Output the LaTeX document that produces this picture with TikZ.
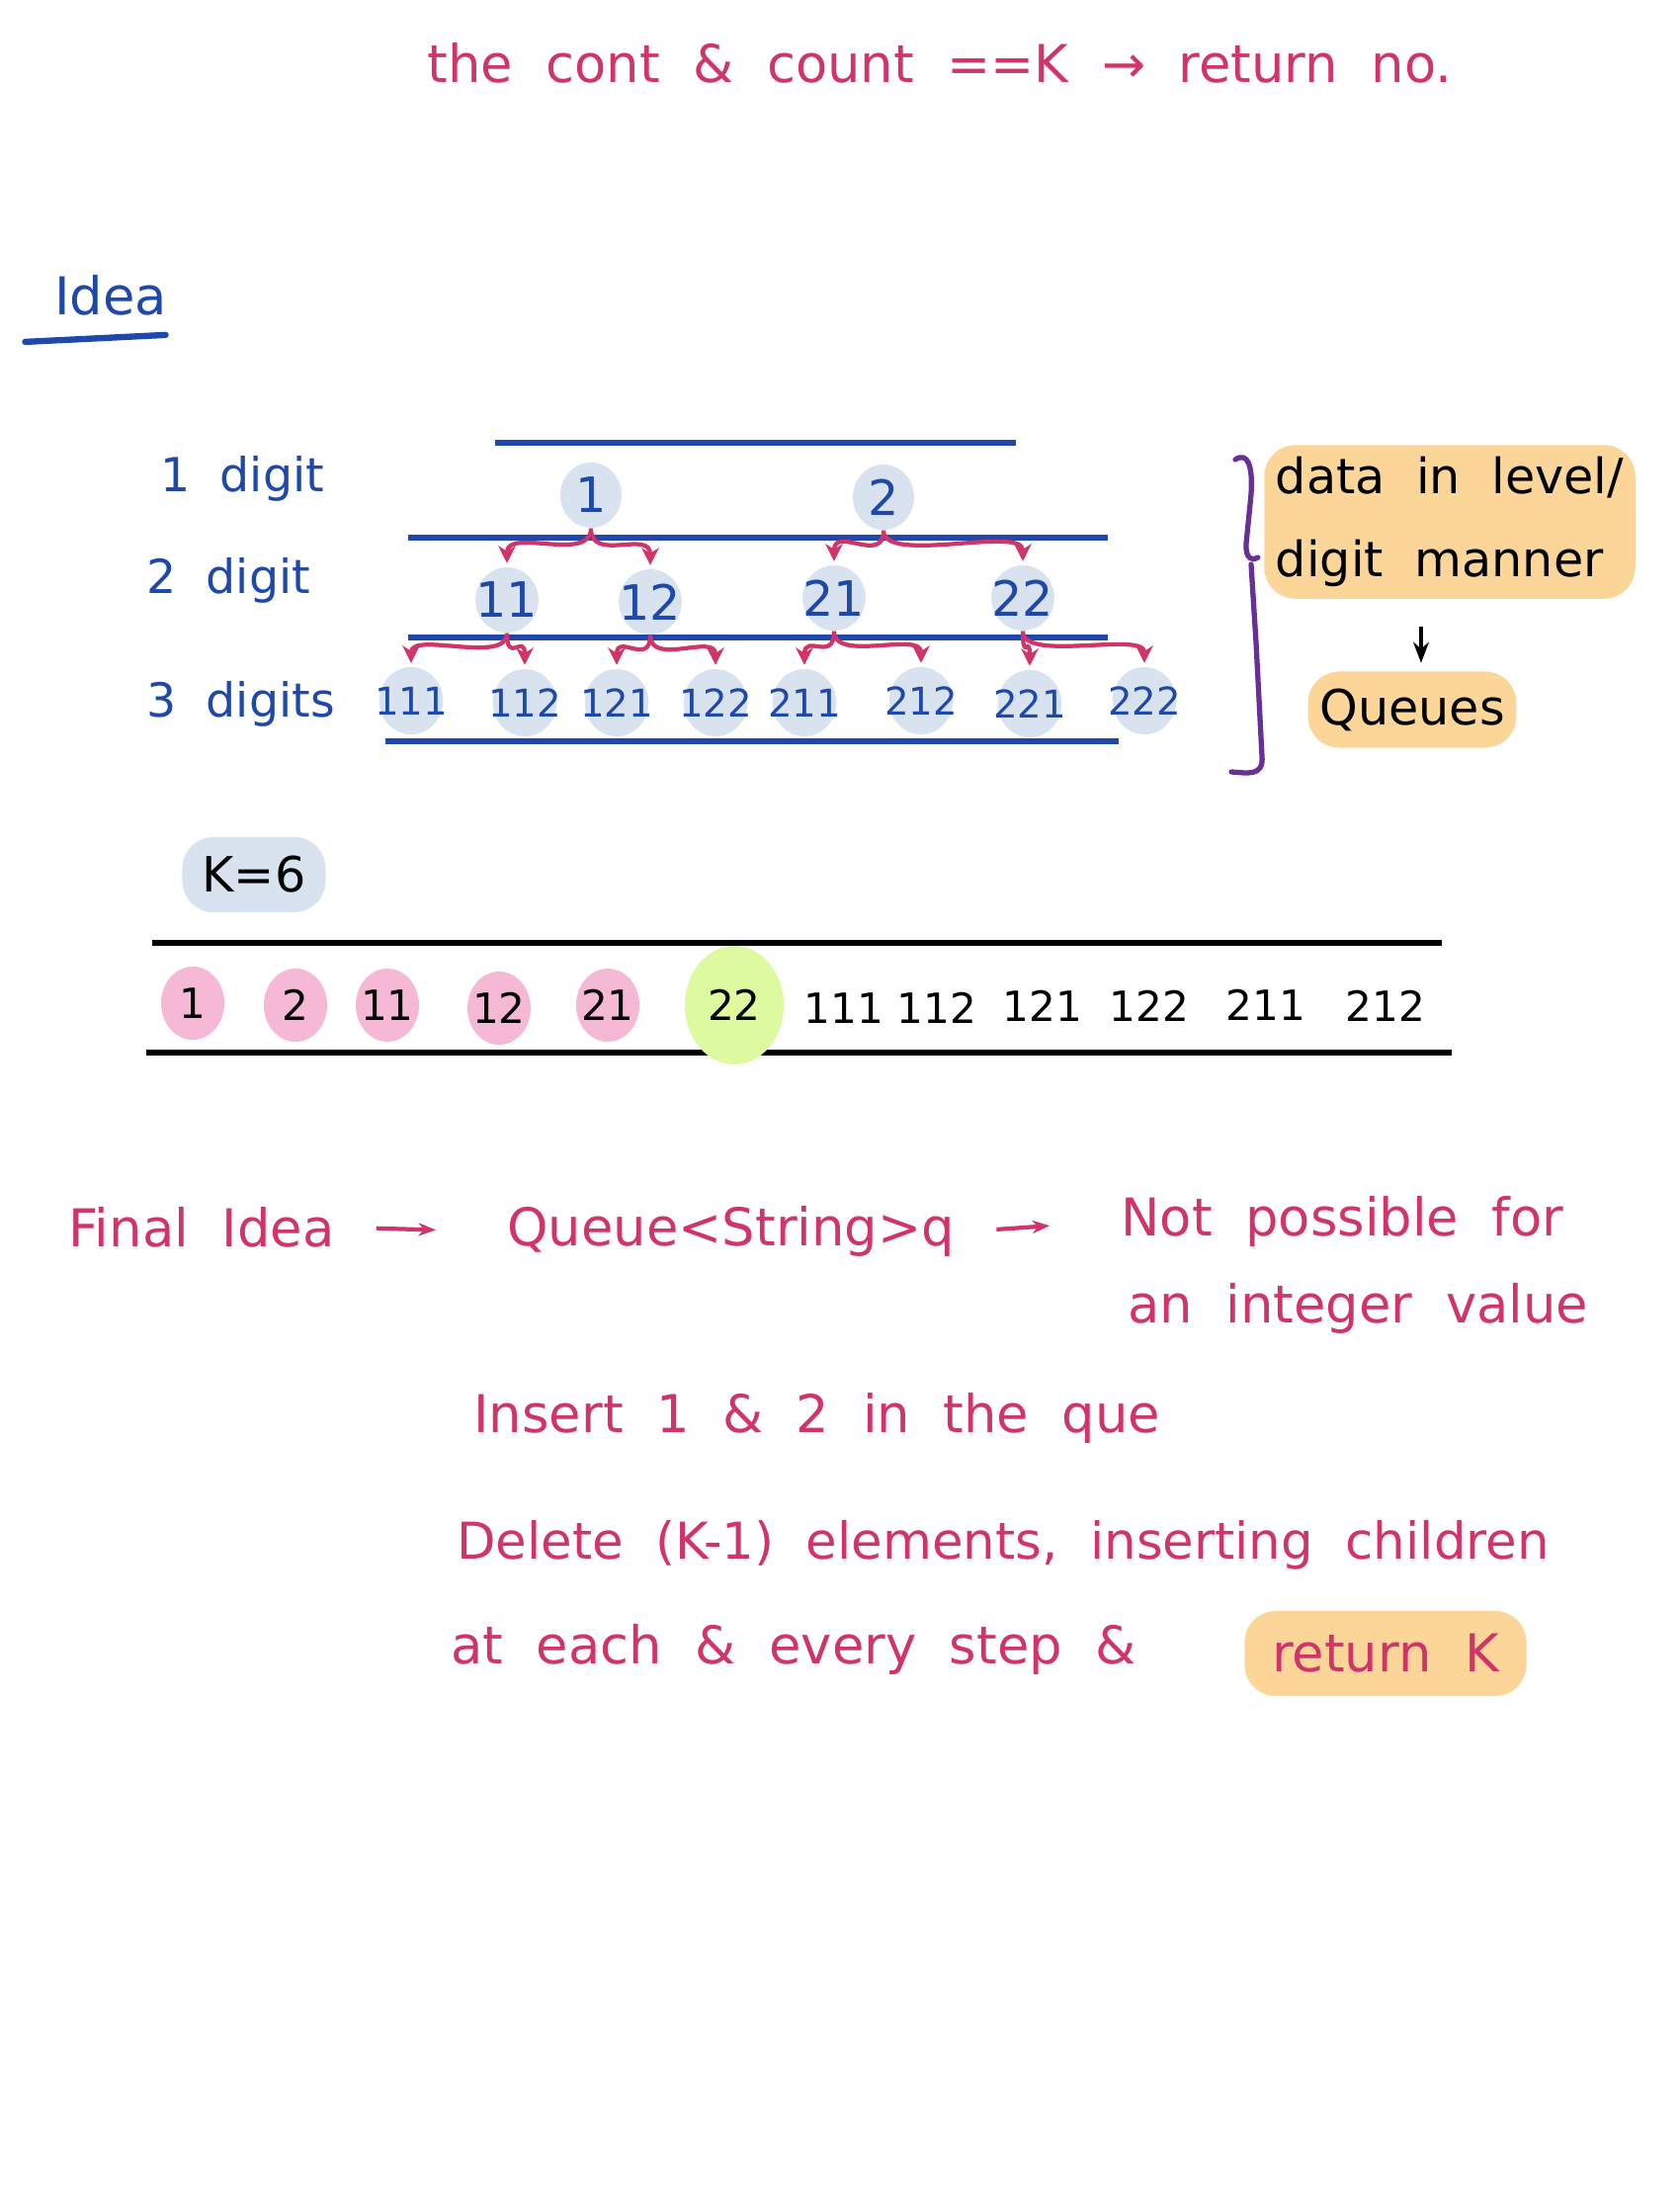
\documentclass[tikz,border=0pt]{standalone}
\usepackage{fontspec}
\setmainfont{DejaVu Sans}[WordSpace=2]
\usepackage{tikz}
\usetikzlibrary{shapes.geometric, arrows.meta, positioning, calc}

\definecolor{inkblue}{RGB}{30,72,170}
\definecolor{inkpink}{RGB}{208,52,104}
\definecolor{inkpurple}{RGB}{104,48,150}
\definecolor{blobblue}{RGB}{216,227,239}
\definecolor{blobpink}{RGB}{245,185,214}
\definecolor{blobgreen}{RGB}{222,250,160}
\definecolor{hlorange}{RGB}{251,214,152}

\begin{document}
\begin{tikzpicture}[
    x=0.01cm, y=-0.01cm,
    every node/.style={font=\fontsize{14}{17}\selectfont},
    pinktext/.style={text=inkpink, anchor=west, font=\fontsize{15}{18}\selectfont},
    bluetext/.style={text=inkblue, anchor=west, font=\fontsize{13.5}{16}\selectfont},
    blob/.style={ellipse, fill=blobblue, text=inkblue, inner xsep=-0.25em, inner ysep=1pt,
      minimum width=0.62cm, minimum height=0.66cm},
    smallblob/.style={blob, inner xsep=-0.4em, minimum height=0.68cm, font=\fontsize{11}{13}\selectfont},
    rowblob/.style={ellipse, inner xsep=-0.3em, inner ysep=1pt, minimum width=0.64cm,
      minimum height=0.74cm, font=\fontsize{12}{14}\selectfont},
    hlbox/.style={fill=hlorange, rounded corners=9pt},
    kid/.style={-{Stealth[length=5pt,width=5pt]}, inkpink, line width=1.2pt, shorten >=1pt},
    level/.style={inkblue, line width=1.6pt},
    rule/.style={black, line width=1.5pt},
  ]
  \useasboundingbox (0,0) rectangle (1700,2232);
  \fill[white] (0,0) rectangle (1700,2232);

  % Heading line
  \node[pinktext] (head) at (420,64) {the cont \& count ==K → return no.};

  % Idea
  \node[bluetext, font=\fontsize{15}{18}\selectfont] (idea) at (43,299) {Idea};
  \draw[inkblue, line width=1.8pt, line cap=round]
    ([xshift=-5pt,yshift=-4pt]idea.south west) -- ([xshift=-4pt,yshift=-2pt]idea.south east);

  % Level labels
  \node[bluetext] (d1) at (150,484) {1 digit};
  \node[bluetext] (d2) at (136,587) {2 digit};
  \node[bluetext] (d3) at (136,712) {3 digits};

  % Level separators
  \draw[level] (501,448) -- (1028,448);
  \draw[level] (413,544) -- (1121,544);
  \draw[level] (413,645) -- (1121,645);
  \draw[level] (390,750) -- (1132,750);

  % Tree of numbers
  \node[blob] (n1) at (598,501) {1};
  \node[blob] (n2) at (894,503) {2};
  \node[blob] (n11) at (513,607) {11};
  \node[blob] (n12) at (658,609) {12};
  \node[blob] (n21) at (844,605) {21};
  \node[blob] (n22) at (1035,605) {22};
  \node[smallblob] (n111) at (416,709) {111};
  \node[smallblob] (n112) at (531,711) {112};
  \node[smallblob] (n121) at (624,711) {121};
  \node[smallblob] (n122) at (724,711) {122};
  \node[smallblob] (n211) at (814,711) {211};
  \node[smallblob] (n212) at (932,709) {212};
  \node[smallblob] (n221) at (1042,712) {221};
  \node[smallblob] (n222) at (1158,709) {222};

  % Children arrows
  \draw[kid] (n1.south) .. controls +(0,35) and +(0,-40) .. (n11.north);
  \draw[kid] (n1.south) .. controls +(0,35) and +(0,-40) .. (n12.north);
  \draw[kid] (n2.south) .. controls +(0,35) and +(0,-40) .. (n21.north);
  \draw[kid] (n2.south) .. controls +(0,35) and +(0,-40) .. (n22.north);
  \draw[kid] (n11.south) .. controls +(0,32) and +(0,-36) .. (n111.north);
  \draw[kid] (n11.south) .. controls +(0,32) and +(0,-36) .. (n112.north);
  \draw[kid] (n12.south) .. controls +(0,32) and +(0,-36) .. (n121.north);
  \draw[kid] (n12.south) .. controls +(0,32) and +(0,-36) .. (n122.north);
  \draw[kid] (n21.south) .. controls +(0,32) and +(0,-36) .. (n211.north);
  \draw[kid] (n21.south) .. controls +(0,32) and +(0,-36) .. (n212.north);
  \draw[kid] (n22.south) .. controls +(0,32) and +(0,-36) .. (n221.north);
  \draw[kid] (n22.south) .. controls +(0,32) and +(0,-36) .. (n222.north);

  % Brace and notes on the right
  \draw[inkpurple, line width=1.5pt, line cap=round, line join=round]
    (1250,465) .. controls (1262,457) and (1268,470) .. (1266,500)
    -- (1261,550) .. controls (1260,566) and (1268,568) .. (1273,564)
    (1266,571) -- (1271,650) -- (1277,765)
    .. controls (1279,786) and (1262,782) .. (1246,781);
  \node[hlbox, align=left, minimum width=3.49cm, minimum height=1.37cm,
    font=\fontsize{14}{24}\selectfont] (data) at (1467,528) {data in level/\\digit manner};
  \node[hlbox, minimum width=1.72cm, minimum height=0.77cm] (queues) at (1429,718) {Queues};
  \draw[-{Stealth[length=6pt]}, line width=1.3pt, shorten <=0.28cm, shorten >=0.08cm]
    ([xshift=0.09cm]queues.north |- data.south) -- ([xshift=0.09cm]queues.north);

  % K value
  \node[fill=blobblue, rounded corners=9pt, minimum width=1.45cm, minimum height=0.76cm]
    (kval) at (257,885) {K=6};

  % Queue order
  \draw[rule] (154,954) -- (1459,954);
  \draw[rule] (148,1065) -- (1469,1065);
  \node[rowblob, fill=blobpink] (q1) at (195,1015) {1};
  \node[rowblob, fill=blobpink] (q2) at (299,1017) {2};
  \node[rowblob, fill=blobpink] (q3) at (392,1017) {11};
  \node[rowblob, fill=blobpink] (q4) at (505,1020) {12};
  \node[rowblob, fill=blobpink] (q5) at (615,1017) {21};
  \node[rowblob, fill=blobgreen, minimum width=1.0cm, minimum height=1.2cm] (q6) at (743,1017) {22};
  \node[rowblob] (q7) at (854,1020) {111};
  \node[rowblob] (q8) at (948,1020) {112};
  \node[rowblob] (q9) at (1055,1018) {121};
  \node[rowblob] (q10) at (1163,1018) {122};
  \node[rowblob] (q11) at (1281,1017) {211};
  \node[rowblob] (q12) at (1402,1018) {212};

  % Final idea
  \node[pinktext] (final) at (57,1242) {Final Idea};
  \node[pinktext] (queue) at (501,1246) {Queue<String>q};
  \node[pinktext] (notpos) at (1122,1236) {Not possible for};
  \node[pinktext] (intval) at (1129,1324) {an integer value};
  \draw[-{Stealth[length=5pt]}, inkpink, line width=1.2pt, shorten <=0.3cm, shorten >=0.6cm]
    (final.east) -- (queue.west);
  \draw[-{Stealth[length=5pt]}, inkpink, line width=1.2pt, shorten <=0.3cm, shorten >=0.6cm]
    (queue.east) -- (notpos.west);

  % Steps
  \node[pinktext] (insert) at (467,1435) {Insert 1 \& 2 in the que};
  \node[pinktext, font=\fontsize{14.6}{18}\selectfont] (delete) at (450,1563) {Delete (K-1) elements, inserting children};
  \node[pinktext] (each) at (444,1669) {at each \& every step \&};
  \node[hlbox, text=inkpink, font=\fontsize{15}{18}\selectfont, minimum width=2.85cm,
    minimum height=0.86cm] (retk) at (1402,1673) {return K};
\end{tikzpicture}
\end{document}
